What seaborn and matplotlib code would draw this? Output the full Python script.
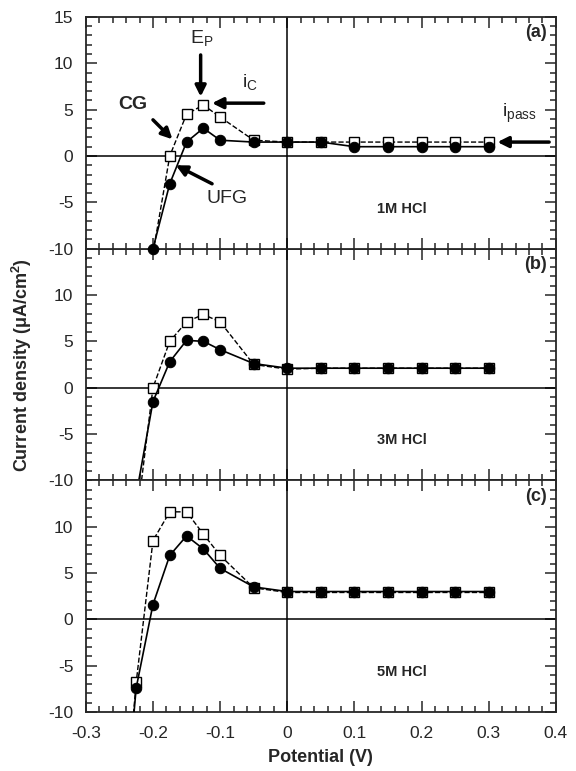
import numpy as np
import pandas as pd
import matplotlib
matplotlib.use("Agg")
import matplotlib.pyplot as plt
from matplotlib.ticker import MultipleLocator
import seaborn as sns

# potentials (V) and current densities (uA/cm2)
pot_a = [-0.2, -0.175, -0.15, -0.125, -0.1, -0.05, 0.0, 0.05, 0.1, 0.15, 0.2, 0.25, 0.3]
ufg_a = [-10.0, -3.0, 1.5, 3.0, 1.7, 1.5, 1.5, 1.5, 1.0, 1.0, 1.0, 1.0, 1.0]
cg_a = [-10.5, 0.0, 4.5, 5.5, 4.2, 1.7, 1.5, 1.5, 1.5, 1.5, 1.5, 1.5, 1.5]

pot_b = [-0.225, -0.2, -0.175, -0.15, -0.125, -0.1, -0.05, 0.0, 0.05, 0.1, 0.15, 0.2, 0.25, 0.3]
ufg_b = [-11.6, -1.5, 2.8, 5.1, 5.0, 4.1, 2.6, 2.1, 2.1, 2.1, 2.1, 2.1, 2.1, 2.1]
cg_b = [-14.7, 0.0, 5.0, 7.1, 7.9, 7.1, 2.5, 2.0, 2.1, 2.1, 2.1, 2.1, 2.1, 2.1]

pot_c = [-0.23, -0.225, -0.2, -0.175, -0.15, -0.125, -0.1, -0.05, 0.0, 0.05, 0.1, 0.15, 0.2, 0.25, 0.3]
ufg_c = [-11.5, -7.4, 1.6, 6.9, 9.0, 7.6, 5.5, 3.5, 3.0, 3.0, 3.0, 3.0, 3.0, 3.0, 3.0]
cg_c = [-11.0, -6.8, 8.5, 11.6, 11.6, 9.2, 6.9, 3.4, 2.9, 2.9, 2.9, 2.9, 2.9, 2.9, 2.9]

panels = ["(a)", "(b)", "(c)"]
solutions = ["1M HCl", "3M HCl", "5M HCl"]

sns.set_style("ticks")
plt.rcParams["font.family"] = ["Liberation Sans", "DejaVu Sans"]
plt.rcParams["mathtext.fontset"] = "custom"
plt.rcParams["mathtext.rm"] = "Liberation Sans"
plt.rcParams["mathtext.bf"] = "Liberation Sans:bold"
plt.rcParams["axes.unicode_minus"] = False
plt.rcParams["xtick.direction"] = "in"
plt.rcParams["ytick.direction"] = "in"
plt.rcParams["axes.linewidth"] = 1.3

fig, axes = plt.subplots(3, 1, sharex=True, figsize=(5.76, 7.71), dpi=100)
plt.subplots_adjust(left=0.149, right=0.965, top=0.978, bottom=0.0765, hspace=0)
# let the marker sitting on the bottom edge of (a) show over (b)
axes[0].set_zorder(3)

data = [(pot_a, ufg_a, cg_a), (pot_b, ufg_b, cg_b), (pot_c, ufg_c, cg_c)]
for i, (ax, (pot, ufg, cg)) in enumerate(zip(axes, data)):
    df = pd.DataFrame({"pot": pot, "UFG": ufg, "CG": cg})
    ax.axhline(0, color="k", lw=1.1, zorder=1)
    ax.axvline(0, color="k", lw=1.1, zorder=1)
    sns.lineplot(data=df, x="pot", y="CG", ax=ax, color="k", lw=1.0, linestyle="--",
                 marker="s", markersize=6.5, markerfacecolor="white",
                 markeredgecolor="k", markeredgewidth=1.0, zorder=3)
    sns.lineplot(data=df, x="pot", y="UFG", ax=ax, color="k", lw=1.2,
                 marker="o", markersize=7.5, markeredgecolor="k", zorder=4,
                 clip_on=(i > 0))
    ax.set_xlim(-0.3, 0.4)
    ax.set_ylim(-10, 15)
    if i == 0:
        ax.set_yticks([-10, -5, 0, 5, 10, 15])
    else:
        ax.set_yticks([-10, -5, 0, 5, 10])
    ax.xaxis.set_major_locator(MultipleLocator(0.1))
    ax.xaxis.set_minor_locator(MultipleLocator(0.02))
    ax.yaxis.set_minor_locator(MultipleLocator(1))
    ax.tick_params(which="both", top=True, right=True, labelsize=12.5, width=1.1)
    ax.tick_params(which="major", length=8)
    ax.tick_params(which="minor", length=4)
    ax.tick_params(axis="x", pad=10)
    ax.tick_params(axis="y", pad=9)
    ax.set_xlabel("")
    ax.set_ylabel("")
    ax.text(0.37, 13.3, panels[i], fontsize=13, fontweight="bold", ha="center", va="center")
    ax.text(0.17, -5.7, solutions[i], fontsize=10.5, fontweight="bold", ha="center", va="center")

axes[2].set_xticks([-0.3, -0.2, -0.1, 0, 0.1, 0.2, 0.3, 0.4])
axes[2].set_xticklabels(["-0.3", "-0.2", "-0.1", "0", "0.1", "0.2", "0.3", "0.4"])
axes[2].set_xlabel("Potential (V)", fontsize=13, fontweight="bold", labelpad=6)
fig.text(0.038, 0.527, "Current density (μA/cm$\\mathbf{^2}$)", rotation=90,
         fontsize=13, fontweight="bold", ha="center", va="center")

# annotations in panel (a)
ax = axes[0]
arrow = dict(arrowstyle="-|>", color="k", lw=2.5, mutation_scale=16, shrinkA=0, shrinkB=0)
ax.annotate("", xy=(-0.171, 1.8), xytext=(-0.2, 3.9), arrowprops=arrow)
ax.text(-0.23, 5.6, "CG", fontsize=14, fontweight="bold", ha="center", va="center")
ax.annotate("", xy=(-0.166, -1.0), xytext=(-0.112, -3.0), arrowprops=arrow)
ax.text(-0.09, -4.6, "UFG", fontsize=14, ha="center", va="center")
ax.annotate("", xy=(-0.129, 6.4), xytext=(-0.129, 10.9), arrowprops=arrow)
ax.text(-0.127, 12.6, "E$_{\\rm P}$", fontsize=14, ha="center", va="center")
ax.annotate("", xy=(-0.112, 5.7), xytext=(-0.035, 5.7), arrowprops=arrow)
ax.text(-0.055, 7.9, "i$_{\\rm C}$", fontsize=14, ha="center", va="center")
ax.annotate("", xy=(0.313, 1.5), xytext=(0.39, 1.5), arrowprops=arrow)
ax.text(0.345, 4.6, "i$_{\\rm pass}$", fontsize=14, ha="center", va="center")

plt.savefig("out.png", dpi=100)
